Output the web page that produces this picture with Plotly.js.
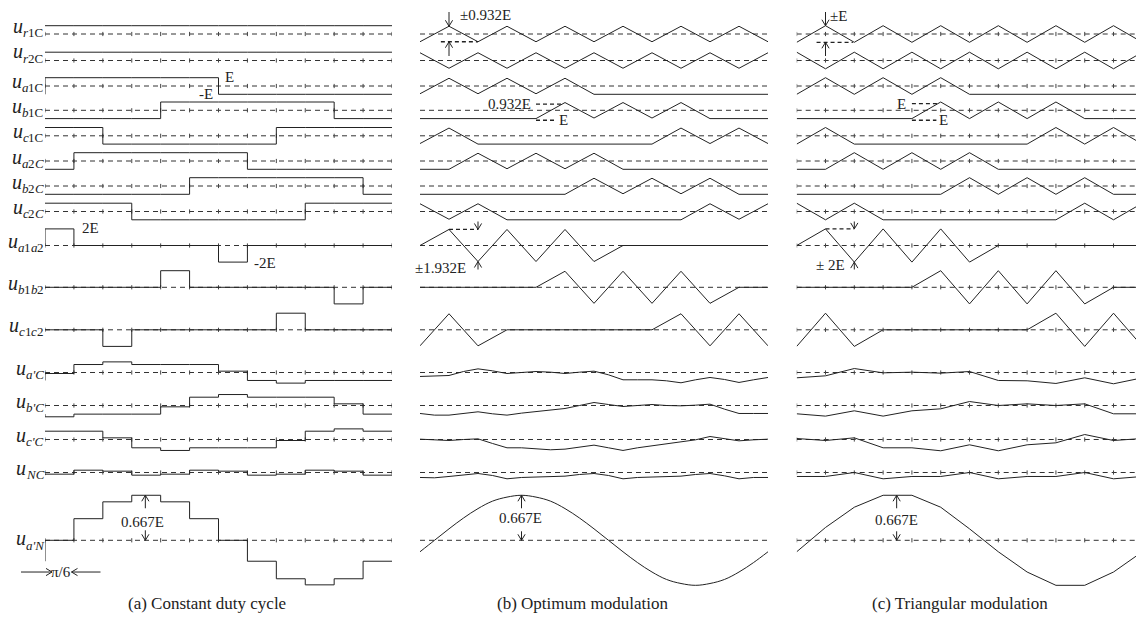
<!DOCTYPE html>
<html>
<head>
<meta charset="utf-8">
<script src="https://cdn.plot.ly/plotly-3.0.1.min.js"></script>
<style>
  html, body { margin: 0; padding: 0; background: #fff; }
  #chart { width: 1136px; height: 619px; }
</style>
</head>
<body>
<div id="chart"></div>
<script>
// Sample instants, in units of one π/6 interval over a full period
const intervalTicks = [0, 1, 2, 3, 4, 5, 6, 7, 8, 9, 10, 11, 12];
const halfTicks = [0, 0.5, 1, 1.5, 2, 2.5, 3, 3.5, 4, 4.5, 5, 5.5, 6, 6.5, 7, 7.5, 8, 8.5, 9, 9.5, 10, 10.5, 11, 11.5, 12];

// Waveform rows (top to bottom); each label is "u" plus subscript pieces [text, italic?]
const rowKeys = ['r1C', 'r2C', 'a1C', 'b1C', 'c1C', 'a2C', 'b2C', 'c2C', 'a1a2', 'b1b2', 'c1c2', 'apC', 'bpC', 'cpC', 'NC', 'apN'];
const rowSubscripts = [
  [['r', 1], ['1C', 0]], [['r', 1], ['2C', 0]],
  [['a', 1], ['1C', 0]], [['b', 1], ['1C', 0]], [['c', 1], ['1C', 0]],
  [['a', 1], ['2', 0], ['C', 1]], [['b', 1], ['2', 0], ['C', 1]], [['c', 1], ['2', 0], ['C', 1]],
  [['a', 1], ['1', 0], ['a', 1], ['2', 0]], [['b', 1], ['1', 0], ['b', 1], ['2', 0]], [['c', 1], ['1', 0], ['c', 1], ['2', 0]],
  [["a'C", 1]], [["b'C", 1]], [["c'C", 1]], [['NC', 1]], [["a'N", 1]]
];

// (a) Constant duty cycle: level held over each of the 12 intervals, in units of E
const cd_r1C = [1, 1, 1, 1, 1, 1, 1, 1, 1, 1, 1, 1];
const cd_r2C = [1, 1, 1, 1, 1, 1, 1, 1, 1, 1, 1, 1];
const cd_a1C = [1, 1, 1, 1, 1, 1, -1, -1, -1, -1, -1, -1];
const cd_b1C = [-1, -1, -1, -1, 1, 1, 1, 1, 1, 1, -1, -1];
const cd_c1C = [1, 1, -1, -1, -1, -1, -1, -1, 1, 1, 1, 1];
const cd_a2C = [-1, 1, 1, 1, 1, 1, 1, -1, -1, -1, -1, -1];
const cd_b2C = [-1, -1, -1, -1, -1, 1, 1, 1, 1, 1, 1, -1];
const cd_c2C = [1, 1, 1, -1, -1, -1, -1, -1, -1, 1, 1, 1];
const cd_a1a2 = [2, 0, 0, 0, 0, 0, -2, 0, 0, 0, 0, 0];
const cd_b1b2 = [0, 0, 0, 0, 2, 0, 0, 0, 0, 0, -2, 0];
const cd_c1c2 = [0, 0, -2, 0, 0, 0, 0, 0, 2, 0, 0, 0];
const cd_apC = [-0.12, 0.96, 1.28, 0.96, 0.96, 0.96, 0.16, -0.96, -1.28, -0.96, -0.96, -0.96];
const cd_bpC = [-1.36, -1.04, -1.04, -1.04, -0.16, 1.0, 1.32, 1.0, 1.0, 1.0, 0.2, -1.04];
const cd_cpC = [1.0, 1.0, 0.2, -1.0, -1.32, -1.0, -1.0, -1.0, -0.12, 1.0, 1.28, 1.0];
const cd_NC = [-0.2, 0.28, 0.16, -0.32, -0.2, 0.28, 0.16, -0.32, -0.2, 0.28, 0.16, -0.32];
const cd_apN = [0, 0.32, 0.57, 0.667, 0.57, 0.32, 0, -0.31, -0.57, -0.66, -0.57, -0.31];

// (b) Optimum modulation: values at each interval boundary, in units of E
const om_r1C = [-0.932, 0.932, -0.932, 0.932, -0.932, 0.932, -0.932, 0.932, -0.932, 0.932, -0.932, 0.932, -0.932];
const om_r2C = [0.932, -0.932, 0.932, -0.932, 0.932, -0.932, 0.932, -0.932, 0.932, -0.932, 0.932, -0.932, 0.932];
const om_a1C = [-0.932, 0.932, -0.932, 0.932, -0.932, 0.932, -1, -1, -1, -1, -1, -1, -1];
const om_b1C = [-1, -1, -1, -1, -1, 0.932, -0.932, 0.932, -0.932, 0.932, -1, -1, -1];
const om_c1C = [-0.932, 0.932, -1, -1, -1, -1, -1, -1, -1, 0.932, -0.932, 0.932, -0.932];
const om_a2C = [-1, -1, 0.932, -0.932, 0.932, -0.932, 0.932, -1, -1, -1, -1, -1, -1];
const om_b2C = [-1, -1, -1, -1, -1, -1, 0.932, -0.932, 0.932, -0.932, 0.932, -1, -1];
const om_c2C = [0.932, -0.932, 0.932, -1, -1, -1, -1, -1, -1, -1, 0.932, -0.932, 0.932];
const om_a1a2 = [0, 1.932, -1.932, 1.932, -1.932, 1.932, -1.932, 0, 0, 0, 0, 0, 0];
const om_b1b2 = [0, 0, 0, 0, 0, 1.932, -1.932, 1.932, -1.932, 1.932, -1.932, 0, 0];
const om_c1c2 = [-1.932, 1.932, -1.932, 0, 0, 0, 0, 0, 0, 1.932, -1.932, 1.932, -1.932];
// (b) output-side voltages, sampled every half interval
const om_apC = [-0.48, -0.44, -0.36, 0.12, 0.44, 0.2, -0.12, 0, 0.12, 0.04, -0.12, 0.04, 0.16, -0.28, -0.88, -0.88, -0.88, -1.0, -1.24, -0.88, -0.6, -0.84, -1.2, -0.88, -0.6];
const om_bpC = [-0.96, -1.16, -1.16, -0.96, -0.76, -1.0, -1.16, -0.92, -0.72, -0.6, -0.36, 0, 0.36, 0.12, -0.12, 0, 0.12, 0, -0.04, 0.04, 0.16, -0.44, -0.96, -0.96, -0.96];
const om_cpC = [0.04, -0.08, -0.12, 0, 0.08, -0.48, -1.0, -1.0, -1.08, -1.24, -1.16, -0.92, -0.68, -1.0, -1.32, -1.0, -0.76, -0.52, -0.28, -0.04, 0.36, 0.12, -0.16, -0.04, 0.04];
const om_NC = [-0.6, -0.64, -0.48, -0.28, -0.12, -0.36, -0.76, -0.6, -0.56, -0.56, -0.44, -0.24, -0.12, -0.36, -0.76, -0.6, -0.56, -0.56, -0.44, -0.24, -0.12, -0.4, -0.76, -0.6, -0.6];
const om_apN = [-0.17, 0, 0.17, 0.33, 0.47, 0.58, 0.64, 0.667, 0.64, 0.58, 0.47, 0.33, 0.17, 0, -0.17, -0.33, -0.47, -0.58, -0.64, -0.667, -0.64, -0.58, -0.47, -0.33, -0.17];

// (c) Triangular modulation: values at each interval boundary, in units of E
const tm_r1C = [-1, 1, -1, 1, -1, 1, -1, 1, -1, 1, -1, 1, -1];
const tm_r2C = [1, -1, 1, -1, 1, -1, 1, -1, 1, -1, 1, -1, 1];
const tm_a1C = [-1, 1, -1, 1, -1, 1, -1, -1, -1, -1, -1, -1, -1];
const tm_b1C = [-1, -1, -1, -1, -1, 1, -1, 1, -1, 1, -1, -1, -1];
const tm_c1C = [-1, 1, -1, -1, -1, -1, -1, -1, -1, 1, -1, 1, -1];
const tm_a2C = [-1, -1, 1, -1, 1, -1, 1, -1, -1, -1, -1, -1, -1];
const tm_b2C = [-1, -1, -1, -1, -1, -1, 1, -1, 1, -1, 1, -1, -1];
const tm_c2C = [1, -1, 1, -1, -1, -1, -1, -1, -1, -1, 1, -1, 1];
const tm_a1a2 = [0, 2, -2, 2, -2, 2, -2, 0, 0, 0, 0, 0, 0];
const tm_b1b2 = [0, 0, 0, 0, 0, 2, -2, 2, -2, 2, -2, 0, 0];
const tm_c1c2 = [-2, 2, -2, 0, 0, 0, 0, 0, 0, 2, -2, 2, -2];
const tm_apC = [-0.64, -0.4, 0.48, -0.04, 0.04, -0.08, 0.12, -0.96, -1.0, -1.32, -0.64, -1.36, -0.64];
const tm_bpC = [-1.0, -1.28, -0.64, -1.28, -0.64, -0.4, 0.48, 0, 0.2, 0, 0.2, -1.0, -1.0];
const tm_cpC = [0.12, -0.12, 0.2, -1.0, -1.0, -1.36, -0.64, -1.36, -0.64, -0.4, 0.6, -0.12, 0.12];
const tm_NC = [-0.48, -0.48, 0, -0.76, -0.48, -0.48, 0, -0.76, -0.48, -0.48, 0, -0.76, -0.48];
const tm_apN = [-0.17, 0.19, 0.49, 0.667, 0.667, 0.49, 0.17, -0.17, -0.47, -0.667, -0.667, -0.47, -0.17];

const panelA = [cd_r1C, cd_r2C, cd_a1C, cd_b1C, cd_c1C, cd_a2C, cd_b2C, cd_c2C, cd_a1a2, cd_b1b2, cd_c1c2, cd_apC, cd_bpC, cd_cpC, cd_NC, cd_apN];
const panelB = [om_r1C, om_r2C, om_a1C, om_b1C, om_c1C, om_a2C, om_b2C, om_c2C, om_a1a2, om_b1b2, om_c1c2, om_apC, om_bpC, om_cpC, om_NC, om_apN];
const panelC = [tm_r1C, tm_r2C, tm_a1C, tm_b1C, tm_c1C, tm_a2C, tm_b2C, tm_c2C, tm_a1a2, tm_b1b2, tm_c1c2, tm_apC, tm_bpC, tm_cpC, tm_NC, tm_apN];
const captions = ['(a) Constant duty cycle', '(b) Optimum modulation', '(c) Triangular modulation'];

// ---- layout geometry (pixels) ----
const W = 1136, H = 619;
const rowCenterPx = [34, 60.5, 86, 110.3, 135.8, 161, 186, 211.5, 245.5, 287.3, 329.8, 372.5, 405.5, 439.5, 472.5, 540.3];
const rowHalfPx   = [22, 22, 22, 22, 22, 22, 22, 22, 24, 24, 24, 22, 22, 22, 22, 62];
const pxPerE      = [8.3, 8.3, 8.3, 8.3, 8.3, 8.3, 8.3, 8.3, 8.3, 8.3, 8.3, 8.3, 8.3, 8.3, 8.3, 67.5];
const uShift      = [8.2, 9.7, 4.5, 4.5, 4.5, 4.5, 4.5, 4.5, 4.5, 4.5, 4.5, 4.5, 4.5, 4.5, 4.5, 2];
const subShift    = [1, 2.5, -2, -2, -2, -2, -2, -2, -2, -2, -2, -2, -2, -2, -2, -5];
const labelRightPx = 42.5;
const panelPx     = [[45, 392], [420, 768], [796.7, 1136]];
const panelRange  = [[0, 12], [0, 12], [0, 11.78]];
const captionX    = [207, 582, 960];
const serifName = 'Liberation Serif';
const serif = '"Liberation Serif", "Times New Roman", "DejaVu Serif", serif';
const ink = '#222';

const xIds = ['x', 'x2', 'x3'];
const yId = r => (r === 0 ? 'y' : 'y' + (r + 1));
const rowOf = ya => (ya === 'y' ? 0 : parseInt(ya.slice(1), 10) - 1);
const pxPerX = xref => {
  if (xref === 'paper') return W;
  const p = xIds.indexOf(xref);
  return (panelPx[p][1] - panelPx[p][0]) / (panelRange[p][1] - panelRange[p][0]);
};

const layout = {
  width: W, height: H, autosize: false,
  margin: { l: 0, r: 0, t: 0, b: 0, pad: 0 },
  paper_bgcolor: '#fff', plot_bgcolor: 'rgba(0,0,0,0)',
  font: { family: serif, color: ink },
  showlegend: false, annotations: [], shapes: []
};
panelPx.forEach((p, i) => {
  layout['xaxis' + (i ? i + 1 : '')] = {
    domain: [p[0] / W, p[1] / W], range: panelRange[i], visible: false, anchor: 'y', fixedrange: true
  };
});
rowCenterPx.forEach((c, r) => {
  const h = rowHalfPx[r], s = pxPerE[r];
  layout['yaxis' + (r ? r + 1 : '')] = {
    domain: [(H - c - h) / H, (H - c + h) / H], range: [-h / s, h / s],
    visible: false, anchor: 'x', fixedrange: true
  };
});

const traces = [];
const dashStyle = { color: '#333', width: 1, dash: '5px,4px' };
const solidStyle = { color: ink, width: 1 };
const tickMarker = { symbol: 'line-ns', size: 3, color: '#444', line: { width: 1, color: '#444' } };

[panelA, panelB, panelC].forEach((panel, p) => {
  const xa = xIds[p];
  panel.forEach((vals, r) => {
    const ya = yId(r);
    // zero reference, with a small mark at each interval boundary
    traces.push({
      type: 'scatter', xaxis: xa, yaxis: ya, hoverinfo: 'skip',
      x: intervalTicks, y: intervalTicks.map(() => 0),
      mode: p === 1 ? 'lines' : 'lines+markers', line: dashStyle, marker: tickMarker
    });
    if (p === 0) {
      // piecewise-constant levels, with the wrap-around edge drawn at t = 0
      traces.push({
        type: 'scatter', xaxis: xa, yaxis: ya, hoverinfo: 'skip', mode: 'lines',
        x: [0].concat(intervalTicks),
        y: [vals[11]].concat(vals, [vals[11]]),
        line: Object.assign({ shape: 'hv' }, solidStyle)
      });
    } else {
      const xs = vals.length === halfTicks.length ? halfTicks : intervalTicks;
      const smooth = rowKeys[r] === 'apN' && p === 1;
      traces.push({
        type: 'scatter', xaxis: xa, yaxis: ya, hoverinfo: 'skip', mode: 'lines',
        x: xs, y: vals,
        line: Object.assign(smooth ? { shape: 'spline', smoothing: 1 } : {}, solidStyle)
      });
    }
  });
});

// ---- row labels: italic "u" followed by a smaller, lowered subscript ----
const ctx = document.createElement('canvas').getContext('2d');
function textWidth(text, size, italic) {
  ctx.font = (italic ? 'italic ' : '') + size + 'px "' + serifName + '"';
  return ctx.measureText(text).width;
}
function piece(xPx, yref, shift, text, size, italic) {
  layout.annotations.push({
    xref: 'paper', x: xPx / W, xanchor: 'left', yref, y: 0, yanchor: 'middle', yshift: shift,
    text, showarrow: false, borderpad: 0,
    font: { family: serif, size, color: ink, style: italic ? 'italic' : 'normal' }
  });
}
rowSubscripts.forEach((parts, r) => {
  const uSize = 20, sSize = 13, ya = yId(r);
  const widths = parts.map(([t, it]) => textWidth(t, sSize, it));
  const subW = widths.reduce((a, b) => a + b, 0);
  const uW = textWidth('u', uSize, true);
  let x = labelRightPx - subW - uW;
  piece(x, ya, uShift[r], 'u', uSize, true);
  x += uW;
  parts.forEach(([t, it], k) => {
    piece(x, ya, subShift[r], t, sSize, it);
    x += widths[k];
  });
});

// panel captions
captions.forEach((c, i) => {
  layout.annotations.push({
    xref: 'paper', yref: 'paper', x: captionX[i] / W, y: (H - 603) / H,
    xanchor: 'center', yanchor: 'middle', text: c, showarrow: false,
    font: { family: serif, size: 17, color: ink }
  });
});

function note(xref, yref, x, y, text, xanchor) {
  layout.annotations.push({
    xref, yref, x, y, text, xanchor: xanchor || 'center', yanchor: 'middle',
    showarrow: false, font: { family: serif, size: 15, color: ink }
  });
}
// Arrow drawn as shapes: a shaft from the tail (offset in pixels) to the tip, plus an open V head
function arrow(xref, yref, x, y, dxPx, dyPx) {
  const kx = pxPerX(xref), ky = pxPerE[rowOf(yref)];
  const len = Math.hypot(dxPx, dyPx);
  const ux = -dxPx / len, uy = -dyPx / len;           // unit vector tail -> tip (screen px, y down)
  const headLen = 6, headHalf = 3.6;
  const toData = (px, py) => [x + px / kx, y - py / ky];
  const tail = toData(dxPx, dyPx);
  const b1 = toData(-ux * headLen - uy * headHalf, -uy * headLen + ux * headHalf);
  const b2 = toData(-ux * headLen + uy * headHalf, -uy * headLen - ux * headHalf);
  const style = { color: ink, width: 1 };
  layout.shapes.push({ type: 'line', xref, yref, x0: tail[0], y0: tail[1], x1: x, y1: y, line: style });
  layout.shapes.push({
    type: 'path', xref, yref, line: style,
    path: `M ${b1[0]},${b1[1]} L ${x},${y} L ${b2[0]},${b2[1]}`
  });
}
function dashed(xref, yref, x0, x1, y) {
  layout.shapes.push({
    type: 'line', xref, yref, x0, x1, y0: y, y1: y,
    line: { color: ink, width: 1.3, dash: '4px,3px' }
  });
}

// (a) annotations
note('x', 'y3', 6.15, 1.05, 'E', 'left');
note('x', 'y3', 5.88, -1.0, '-E', 'right');
note('x', 'y9', 1.21, 2.05, '2E', 'left');
note('x', 'y9', 7.16, -2.05, '-2E', 'left');
note('x', 'y16', 3.36, 0.27, '0.667E', 'center');
arrow('x', 'y16', 3.47, 0.667, 0, 13);
arrow('x', 'y16', 3.47, 0, 0, -10);
note('x', 'y16', 0.57, -0.47, 'π/6', 'center');
// the π/6 span arrows reach left of the plot area, so they are placed on the page width
arrow('paper', 'y16', 52 / W, -0.47, -31, 0);
arrow('paper', 'y16', 71.5 / W, -0.47, 29, 0);

// (b) annotations
note('x2', 'y', 1.31, 2.33, '±0.932E', 'left');
arrow('x2', 'y', 1, 0.932, 0, -20);
arrow('x2', 'y', 1, -0.932, 0, 15);
dashed('x2', 'y', 0.72, 2.0, -0.932);
note('x2', 'y4', 3.9, 0.72, '0.932E', 'right');
dashed('x2', 'y4', 4.0, 4.93, 0.75);
dashed('x2', 'y4', 4.0, 4.72, -1.2);
note('x2', 'y4', 4.74, -1.2, 'E', 'left');
dashed('x2', 'y9', 1.0, 2.0, 1.932);
arrow('x2', 'y9', 2, 1.932, 0, -17);
arrow('x2', 'y9', 2, -1.932, 0, 14);
note('x2', 'y9', 1.66, -2.7, '±1.932E', 'right');
note('x2', 'y16', 3.45, 0.33, '0.667E', 'center');
arrow('x2', 'y16', 3.5, 0.667, 0, 13);
arrow('x2', 'y16', 3.5, 0, 0, -9);

// (c) annotations
note('x3', 'y', 1.09, 2.2, '±E', 'left');
arrow('x3', 'y', 1, 1, 0, -18);
arrow('x3', 'y', 1, -1, 0, 15);
dashed('x3', 'y', 0.69, 1.95, -1);
note('x3', 'y4', 3.87, 0.8, 'E', 'right');
dashed('x3', 'y4', 4.0, 4.9, 0.8);
dashed('x3', 'y4', 4.0, 4.85, -1.2);
note('x3', 'y4', 4.87, -1.2, 'E', 'left');
dashed('x3', 'y9', 1.0, 2.0, 2);
arrow('x3', 'y9', 2, 2, 0, -12);
arrow('x3', 'y9', 2, -2, 0, 14);
note('x3', 'y9', 1.74, -2.4, '± 2E', 'right');
note('x3', 'y16', 3.47, 0.30, '0.667E', 'center');
arrow('x3', 'y16', 3.47, 0.667, 0, 13);
arrow('x3', 'y16', 3.47, 0, 0, -9);

Plotly.newPlot('chart', traces, layout, { staticPlot: true, displayModeBar: false });
</script>
</body>
</html>
